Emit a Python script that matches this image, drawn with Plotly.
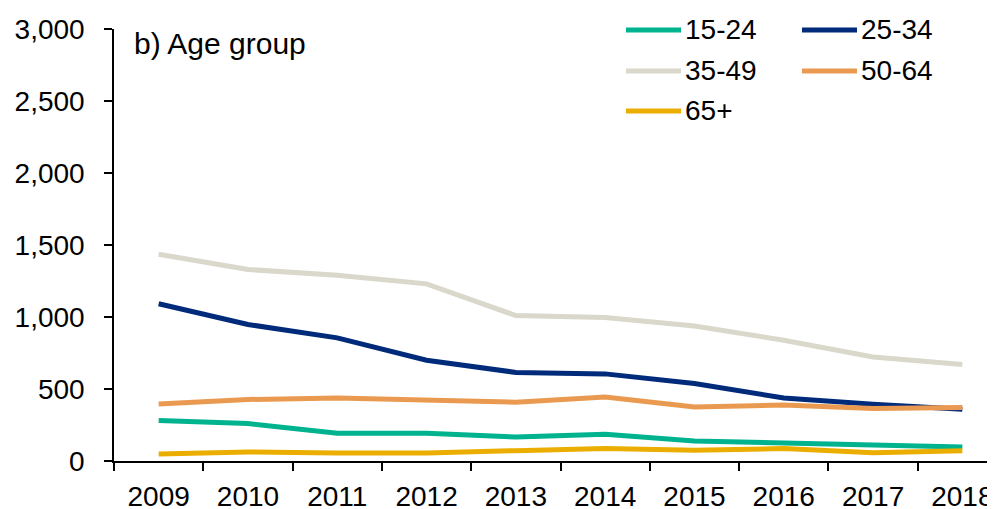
import plotly.graph_objects as go

years = ["2009", "2010", "2011", "2012", "2013", "2014", "2015", "2016", "2017", "2018"]
age_15_24 = [281, 260, 192, 192, 167, 186, 139, 125, 116, 97]
age_25_34 = [1092, 948, 855, 700, 615, 605, 538, 438, 394, 359]
age_35_49 = [1436, 1330, 1290, 1230, 1010, 996, 938, 839, 722, 670]
age_50_64 = [396, 427, 438, 422, 408, 445, 375, 389, 364, 371]
age_65_plus = [49, 63, 56, 56, 72, 86, 74, 86, 58, 72]

series_names = ["15-24", "25-34", "35-49", "50-64", "65+"]
series_values = [age_15_24, age_25_34, age_35_49, age_50_64, age_65_plus]
series_colors = ["#00B38F", "#002B7A", "#D9D8CB", "#EA9A50", "#EBAE00"]

y_ticks = [0, 500, 1000, 1500, 2000, 2500, 3000]
y_tick_text = ["0", "500", "1,000", "1,500", "2,000", "2,500", "3,000"]

FONT = "Liberation Sans, Arial, sans-serif"
OFF = 8  # page body margin
W, H = 995 - OFF, 509 - OFF
ML, MT, MB = 114 - OFF, 29 - OFF, 48
PW = W - ML
PH = H - MT - MB

fig = go.Figure()
draw_order = [2, 1, 3, 0, 4]
for i in draw_order:
    fig.add_trace(go.Scatter(
        x=years, y=series_values[i], mode="lines", name=series_names[i],
        line=dict(color=series_colors[i], width=5), showlegend=False,
    ))

def px2x(px):
    return (px - OFF - ML) / PW

def py2y(py):
    return (H - MB - (py - OFF)) / PH

legend_pos = [(626, 30), (802, 30), (626, 71), (802, 71), (626, 111)]
for name, color, (lx, ly) in zip(series_names, series_colors, legend_pos):
    fig.add_shape(type="line", xref="paper", yref="paper",
                  x0=px2x(lx), x1=px2x(lx + 55), y0=py2y(ly), y1=py2y(ly),
                  line=dict(color=color, width=5))
    fig.add_annotation(xref="paper", yref="paper", x=px2x(lx + 57), y=py2y(ly),
                       text=name, showarrow=False, xanchor="left", yanchor="middle",
                       font=dict(family=FONT, size=28, color="#000000"))

fig.add_annotation(xref="paper", yref="paper", x=px2x(132), y=py2y(43),
                   text="b) Age group", showarrow=False, xanchor="left", yanchor="middle",
                   font=dict(family=FONT, size=30, color="#000000"))

fig.update_layout(
    width=W, height=H,
    margin=dict(l=ML, r=0, t=MT, b=MB, pad=0, autoexpand=False),
    paper_bgcolor="white", plot_bgcolor="white",
    font=dict(family=FONT, size=28, color="#000000"),
    xaxis=dict(
        type="category", range=[-0.5, 9.5 - 12 / 89.3], automargin=False,
        showline=True, linecolor="#000000", linewidth=1.5,
        ticks="outside", ticklen=8, tickwidth=1.5, tickcolor="#000000",
        tickson="boundaries", showgrid=False, zeroline=False,
        ticklabelstandoff=10,
        tickfont=dict(family=FONT, size=28, color="#000000"),
    ),
    yaxis=dict(
        range=[0, 3000], tickvals=y_ticks, ticktext=y_tick_text, automargin=False,
        showline=True, linecolor="#000000", linewidth=1.5,
        ticks="outside", ticklen=8, tickwidth=1.5, tickcolor="#000000",
        showgrid=False, zeroline=False,
        ticklabelstandoff=14,
        tickfont=dict(family=FONT, size=28, color="#000000"),
    ),
)

fig.write_html("out.html")
